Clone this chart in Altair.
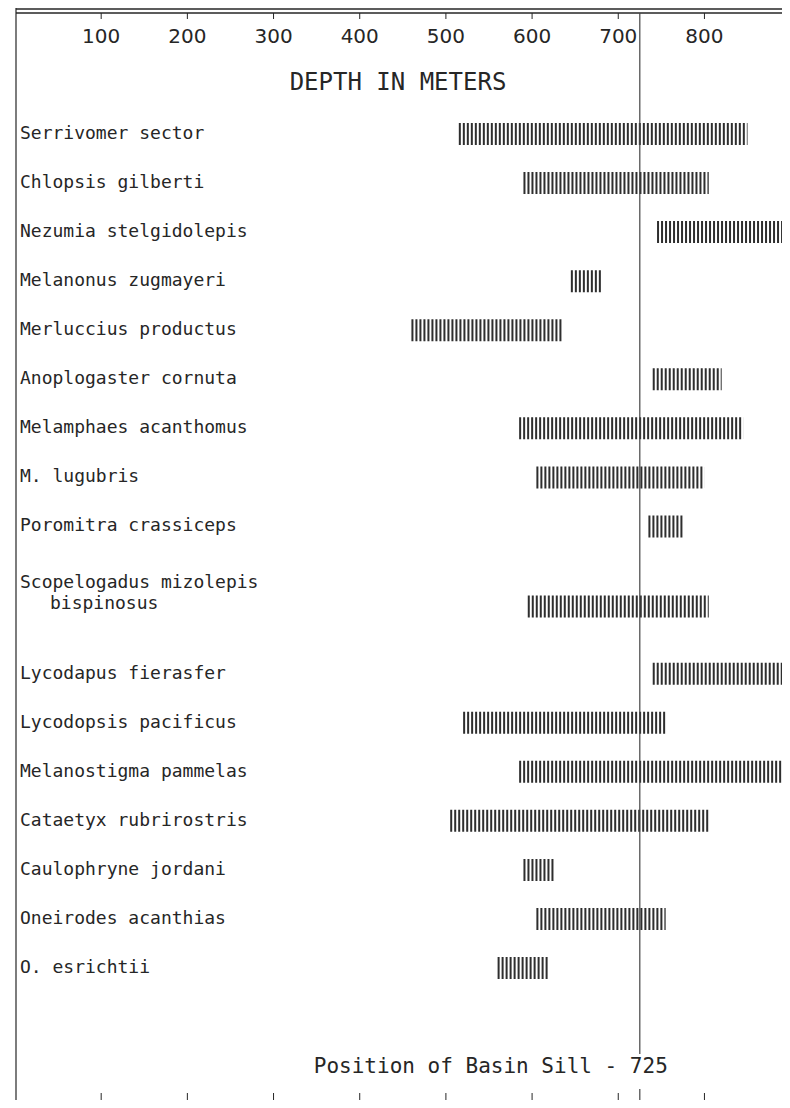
import altair as alt
import pandas as pd

# ---- data ----
species = [
    "Serrivomer sector",
    "Chlopsis gilberti",
    "Nezumia stelgidolepis",
    "Melanonus zugmayeri",
    "Merluccius productus",
    "Anoplogaster cornuta",
    "Melamphaes acanthomus",
    "M. lugubris",
    "Poromitra crassiceps",
    "Scopelogadus mizolepis bispinosus",
    "Lycodapus fierasfer",
    "Lycodopsis pacificus",
    "Melanostigma pammelas",
    "Cataetyx rubrirostris",
    "Caulophryne jordani",
    "Oneirodes acanthias",
    "O. esrichtii",
]
depth_min = [515, 590, 745, 645, 460, 740, 585, 605, 735, 595, 740, 520, 585, 505, 590, 605, 560]
depth_max = [850, 805, 900, 680, 635, 820, 845, 800, 775, 805, 900, 755, 900, 805, 625, 755, 620]

tick_values = [100, 200, 300, 400, 500, 600, 700, 800]
tick_labels = ["100", "200", "300", "400", "500", "600", "700", "800"]
sill_depth = [725]
sill_text = ["Position of Basin Sill - 725"]
axis_title = "DEPTH IN METERS"

# ---- tables ----
two_line = "Scopelogadus mizolepis bispinosus"
line1 = [s if s != two_line else "Scopelogadus mizolepis" for s in species]
line2 = ["" if s != two_line else "bispinosus" for s in species]
df = pd.DataFrame({"species": species, "line1": line1, "line2": line2,
                   "dmin": depth_min, "dmax": depth_max})
ticks_df = pd.DataFrame({"depth": tick_values, "label": tick_labels})
sill_df = pd.DataFrame({"depth": sill_depth, "text": sill_text})
one = pd.DataFrame({"a": [0]})

# the two-line label takes an extra slot in the row layout
k = species.index(two_line)
row_slots = species[:k] + ["(gap)"] + species[k:]

W, H = 767, 1091
INK = "#262626"
SANS = "DejaVu Sans"
MONO = "DejaVu Sans Mono"

x_scale = alt.Scale(domain=[0, 890], clamp=True)
y_scale = alt.Scale(type="point", domain=row_slots, range=[125, 959], padding=0)
Y = alt.Y("species:N", scale=y_scale, axis=None)
is_two = alt.datum.line2 != ""
is_one = alt.datum.line2 == ""

bars = alt.Chart(df).transform_filter(is_one).mark_rule(
    strokeWidth=22, strokeDash=[2, 2], color="#2e2e2e"
).encode(
    x=alt.X("dmin:Q", scale=x_scale, axis=None),
    x2="dmax:Q",
    y=Y,
)
bars2 = alt.Chart(df).transform_filter(is_two).mark_rule(
    strokeWidth=22, strokeDash=[2, 2], color="#2e2e2e"
).encode(
    x=alt.X("dmin:Q", scale=x_scale, axis=None),
    x2="dmax:Q",
    y=Y,
    yOffset=alt.value(-18),
)

names = alt.Chart(df).transform_filter(is_one).mark_text(
    align="left", baseline="middle", fontSize=18, font=MONO, color=INK
).encode(x=alt.value(5), y=Y, text="line1:N")

names2a = alt.Chart(df).transform_filter(is_two).mark_text(
    align="left", baseline="middle", fontSize=18, font=MONO, color=INK, dy=-42
).encode(x=alt.value(5), y=Y, text="line1:N")

names2b = alt.Chart(df).transform_filter(is_two).mark_text(
    align="left", baseline="middle", fontSize=18, font=MONO, color=INK, dy=-21
).encode(x=alt.value(35), y=Y, text="line2:N")

top1 = alt.Chart(one).mark_rule(color=INK, strokeWidth=1.5).encode(
    x=alt.value(1), x2=alt.value(W), y=alt.value(0))
top2 = alt.Chart(one).mark_rule(color=INK, strokeWidth=1.5).encode(
    x=alt.value(1), x2=alt.value(W), y=alt.value(4))
left = alt.Chart(one).mark_rule(color=INK, strokeWidth=1.2).encode(
    x=alt.value(1), y=alt.value(-4), y2=alt.value(H))

top_ticks = alt.Chart(ticks_df).mark_rule(color=INK, strokeWidth=1).encode(
    x=alt.X("depth:Q", scale=x_scale, axis=None), y=alt.value(4), y2=alt.value(10))
top_labels = alt.Chart(ticks_df).mark_text(
    fontSize=20, font=SANS, color=INK, baseline="middle", align="center"
).encode(
    x=alt.X("depth:Q", scale=x_scale, axis=None), y=alt.value(28), text="label:N")

title = alt.Chart(one).mark_text(
    fontSize=24, font=MONO, color=INK, baseline="middle", align="center"
).encode(x=alt.value(383), y=alt.value(74), text=alt.value(axis_title))

bottom_ticks = alt.Chart(ticks_df).mark_rule(color=INK, strokeWidth=1).encode(
    x=alt.X("depth:Q", scale=x_scale, axis=None), y=alt.value(1084), y2=alt.value(H))

sill_line = alt.Chart(sill_df).mark_rule(color="#444444", strokeWidth=1.2).encode(
    x=alt.X("depth:Q", scale=x_scale, axis=None), y=alt.value(4), y2=alt.value(1045))
sill_tick = alt.Chart(sill_df).mark_rule(color="#444444", strokeWidth=1.2).encode(
    x=alt.X("depth:Q", scale=x_scale, axis=None), y=alt.value(1080), y2=alt.value(H))
sill_label = alt.Chart(sill_df).mark_text(
    fontSize=21, font=MONO, color=INK, baseline="middle", align="right", dx=28
).encode(x=alt.X("depth:Q", scale=x_scale, axis=None), y=alt.value(1058), text="text:N")

chart = alt.layer(
    bars, bars2, names, names2a, names2b, top1, top2, left, top_ticks, top_labels, title,
    bottom_ticks, sill_line, sill_tick, sill_label,
).properties(
    width=W, height=H,
    autosize=alt.AutoSizeParams(type="none"),
    padding={"left": 7, "top": 1, "right": 0, "bottom": 0},
).configure_view(stroke=None)

chart.save("out.html", embed_options={"renderer": "svg", "actions": False})
